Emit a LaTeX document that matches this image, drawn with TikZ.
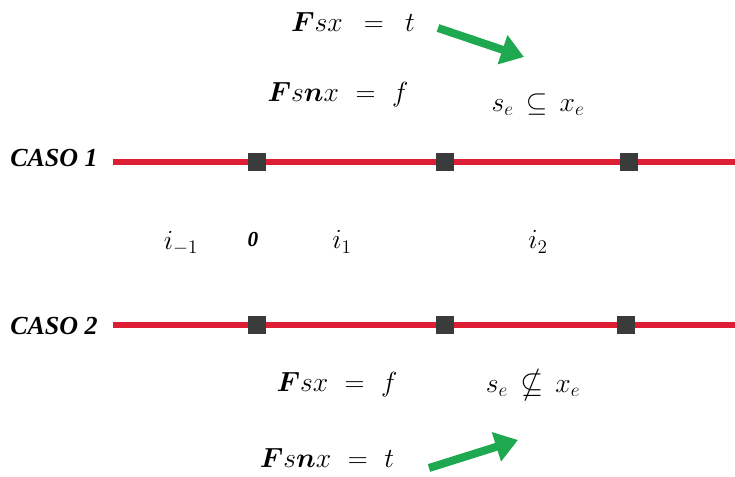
\documentclass[tikz,border=0pt]{standalone}
\usepackage{amsmath,amssymb}
\usepackage{fontspec}
\newfontfamily\casofont{Liberation Serif}
\usetikzlibrary{arrows.meta}
\definecolor{linered}{RGB}{222,30,52}
\definecolor{sqgray}{RGB}{58,60,60}
\definecolor{arrgreen}{RGB}{30,168,80}
\tikzset{
  tline/.style={line width=4pt, linered},
  sq/.style={draw=none, fill=sqgray, minimum size=13.5pt, inner sep=0pt},
  caso/.style={font=\casofont\bfseries\itshape\fontsize{19.5}{23}\selectfont, anchor=west, inner sep=0pt},
  eq/.style={font=\fontsize{22}{26}\selectfont, inner sep=0pt},
  ilab/.style={font=\fontsize{21}{25}\selectfont, inner sep=0pt},
  garrow/.style={line width=6pt, arrgreen, -{Triangle[length=17pt,width=22pt]}},
}
\begin{document}
\begin{tikzpicture}[x=0.75pt,y=-0.75pt]
\useasboundingbox (0,0) rectangle (735,477);
% case 1
\node[caso] (c1) at (10,158) {CASO 1};
\coordinate (l1s) at (113,162);
\coordinate (l1e) at (735,162);
\draw[tline] (l1s) -- (l1e);
\node[sq] (a1) at (257,162) {};
\node[sq] (a2) at (445,162) {};
\node[sq] (a3) at (629,162) {};
% case 2
\node[caso] (c2) at (10,326) {CASO 2};
\coordinate (l2s) at (113,325);
\coordinate (l2e) at (735,325);
\draw[tline] (l2s) -- (l2e);
\node[sq] (b1) at (257,325) {};
\node[sq] (b2) at (445,325) {};
\node[sq] (b3) at (626,325) {};
% interval labels
\node[ilab] (im1) at (181,243) {$i_{-1}$};
\node[font=\casofont\bfseries\itshape\fontsize{16}{19}\selectfont, inner sep=0pt] (zero) at (253,240) {0};
\node[ilab] (i1) at (342,242) {$i_1$};
\node[ilab] (i2) at (538,242) {$i_2$};
% top equations
\node[eq] (e1) at (353,22) {$\boldsymbol{F}sx\ \,=\ \,t$};
\node[eq] (e2) at (338,95) {$\boldsymbol{F}s\boldsymbol{n}x\ =\ f$};
\node[eq] (e3) at (538,105) {$s_e\,\subseteq\,x_e$};
\coordinate (t1) at (438,28);
\coordinate (h1) at (524,57);
\draw[garrow] (t1) -- (h1);
% bottom equations
\node[eq] (e4) at (337,385) {$\boldsymbol{F}sx\ =\ f$};
\node[eq] (e5) at (533,385) {$s_e\,\nsubseteq\,x_e$};
\node[eq] (e6) at (327,458) {$\boldsymbol{F}s\boldsymbol{n}x\ =\ t$};
\coordinate (t2) at (429,468);
\coordinate (h2) at (518,440);
\draw[garrow] (t2) -- (h2);
\end{tikzpicture}
\end{document}
